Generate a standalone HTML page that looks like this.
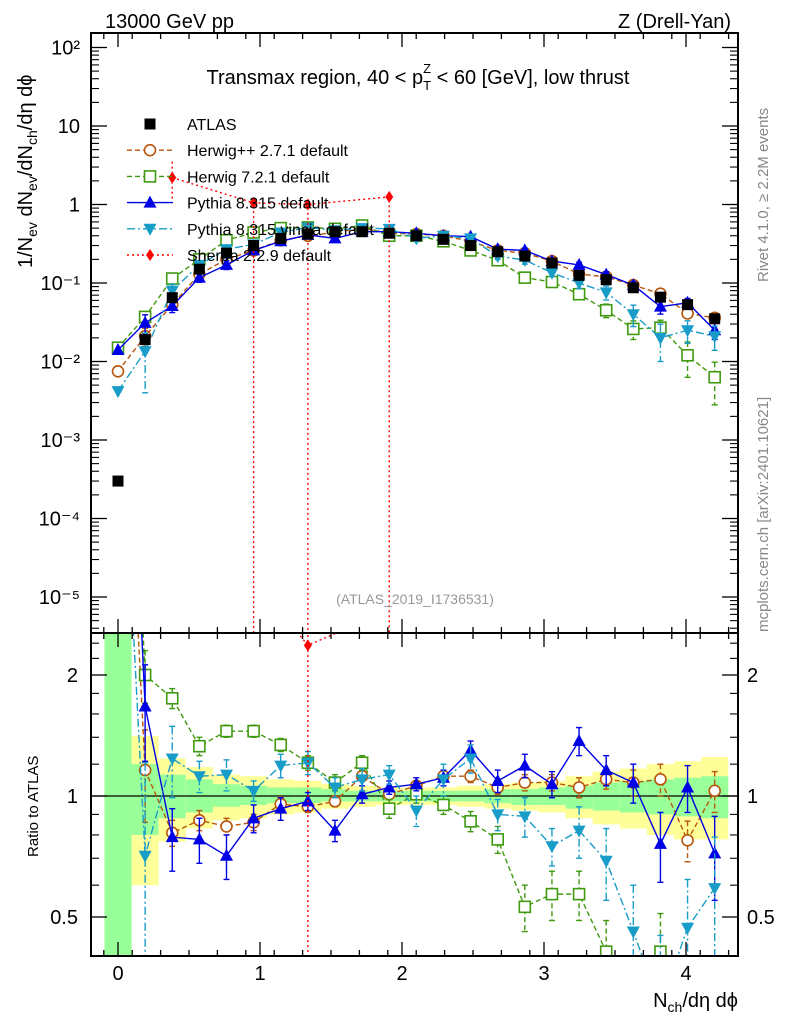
<!DOCTYPE html>
<html><head><meta charset="utf-8">
<style>
html,body{margin:0;padding:0;background:#fff;width:786px;height:1024px;overflow:hidden;}
svg{display:block;font-family:"Liberation Sans",sans-serif;}
</style></head>
<body>
<svg id="chart" width="786" height="1024" viewBox="0 0 786 1024" xmlns="http://www.w3.org/2000/svg">
<defs>
<clipPath id="cu"><rect x="91" y="33" width="647" height="600"/></clipPath>
<clipPath id="cl"><rect x="91" y="633" width="647" height="323"/></clipPath>
</defs>
<g id="bands" clip-path="url(#cl)"></g>
<g id="upper" clip-path="url(#cu)"></g>
<g id="lower" clip-path="url(#cl)"></g>
<g id="axes"></g>
<text x="105" y="28" font-size="20">13000 GeV pp</text>
<text x="731" y="28" font-size="20" text-anchor="end">Z (Drell-Yan)</text>
<text x="418" y="84" font-size="20" text-anchor="middle">Transmax region, 40 &lt; p<tspan font-size="13" dy="6">T</tspan><tspan font-size="13" dx="-8" dy="-17">Z</tspan><tspan dy="11"> &lt; 60 [GeV], low thrust</tspan></text>
<text x="415" y="604" font-size="14" fill="#999" text-anchor="middle">(ATLAS_2019_I1736531)</text>
<text transform="translate(768,282) rotate(-90)" font-size="15" fill="#888">Rivet 4.1.0, ≥ 2.2M events</text>
<text transform="translate(768,632) rotate(-90)" font-size="15" fill="#888">mcplots.cern.ch [arXiv:2401.10621]</text>
<text transform="translate(32,268) rotate(-90)" font-size="20">1/N<tspan font-size="14" dy="5">ev</tspan><tspan dy="-5"> dN</tspan><tspan font-size="14" dy="5">ev</tspan><tspan dy="-5">/dN</tspan><tspan font-size="14" dy="5">ch</tspan><tspan dy="-5">/dη dϕ</tspan></text>
<text transform="translate(38,857) rotate(-90)" font-size="15">Ratio to ATLAS</text>
<text x="738" y="1007" font-size="20" text-anchor="end">N<tspan font-size="14" dy="5">ch</tspan><tspan dy="-5">/dη dϕ</tspan></text>
<g id="legend"></g>
<script>
const idx = [0,1,2,3,4,5,6,7,8,9,10,11,12,13,14,15,16,17,18,19,20,21,22];
const binWidth = 0.191;
const atlas = [3e-4,0.019,0.065,0.15,0.24,0.30,0.37,0.42,0.45,0.45,0.43,0.40,0.36,0.30,0.25,0.22,0.18,0.125,0.11,0.087,0.066,0.053,0.035];
const hpp   = [0.0075,0.021,0.053,0.13,0.20,0.26,0.35,0.40,0.44,0.50,0.43,0.42,0.40,0.34,0.26,0.24,0.19,0.13,0.12,0.094,0.073,0.041,0.036];
const h7    = [0.015,0.037,0.114,0.20,0.35,0.44,0.50,0.51,0.49,0.54,0.40,0.40,0.34,0.26,0.195,0.117,0.103,0.072,0.045,0.026,0.027,0.012,0.0063];
const py    = [0.014,0.031,0.051,0.117,0.17,0.26,0.34,0.41,0.37,0.45,0.45,0.43,0.40,0.39,0.27,0.26,0.19,0.17,0.128,0.094,0.05,0.056,0.025];
const vin   = [0.0042,0.0135,0.08,0.17,0.27,0.31,0.44,0.51,0.47,0.50,0.49,0.37,0.40,0.37,0.22,0.196,0.135,0.10,0.076,0.04,0.02,0.025,0.021];
const shIdx = [2,5,7,10];
const sh    = [2.2,1.05,1.0,1.25];
const rHpp  = [25,1.16,0.81,0.87,0.84,0.86,0.955,0.94,0.97,1.12,1.01,1.06,1.12,1.12,1.05,1.08,1.08,1.05,1.10,1.08,1.10,0.776,1.03];
const rH7   = [50,2.0,1.75,1.33,1.45,1.45,1.34,1.21,1.08,1.21,0.93,1.01,0.95,0.865,0.78,0.53,0.57,0.57,0.41,0.30,0.41,0.21,0.18];
const rPy   = [47,1.67,0.79,0.78,0.71,0.88,0.93,0.97,0.82,1.01,1.05,1.07,1.11,1.30,1.09,1.19,1.07,1.37,1.16,1.08,0.76,1.05,0.72];
const rVin  = [14,0.71,1.24,1.12,1.13,1.03,1.19,1.21,1.05,1.10,1.13,0.92,1.10,1.24,0.90,0.89,0.75,0.82,0.69,0.46,0.30,0.47,0.59];
const rSh   = [34,3.5,2.37,2.9];
const eHpp  = [0.5,0.3,0.06,0.05,0.04,0.04,0.04,0.03,0.03,0.03,0.03,0.03,0.03,0.04,0.04,0.05,0.05,0.06,0.06,0.08,0.1,0.09,0.12];
const eH7   = [0.5,0.3,0.1,0.07,0.05,0.05,0.05,0.05,0.05,0.05,0.05,0.05,0.05,0.05,0.06,0.07,0.08,0.08,0.08,0.08,0.1,0.1,0.1];
const ePy   = [0.5,0.45,0.14,0.1,0.09,0.07,0.06,0.05,0.05,0.05,0.04,0.04,0.05,0.07,0.07,0.08,0.08,0.11,0.1,0.12,0.15,0.14,0.17];
const eVin  = [0.5,0.5,0.25,0.1,0.1,0.06,0.08,0.08,0.06,0.07,0.06,0.08,0.1,0.1,0.08,0.1,0.08,0.12,0.14,0.14,0.15,0.15,0.2];
const yelUp = [2.6,1.41,1.24,1.18,1.13,1.12,1.10,1.09,1.07,1.06,1.05,1.05,1.05,1.06,1.07,1.08,1.09,1.12,1.15,1.17,1.20,1.22,1.25];
const yelDn = [0.3,0.60,0.77,0.83,0.87,0.88,0.90,0.91,0.93,0.94,0.95,0.95,0.95,0.94,0.93,0.92,0.91,0.88,0.85,0.83,0.80,0.78,0.78];
const grnUp = [2.6,1.20,1.13,1.10,1.07,1.06,1.05,1.05,1.04,1.03,1.03,1.03,1.03,1.03,1.04,1.04,1.05,1.06,1.08,1.09,1.10,1.11,1.12];
const grnDn = [0.3,0.80,0.88,0.91,0.94,0.95,0.96,0.96,0.97,0.97,0.97,0.97,0.97,0.97,0.96,0.95,0.95,0.93,0.92,0.91,0.90,0.89,0.88];
const upperTicks = [2,1,0,-1,-2,-3,-4,-5];
const upperTickLabels = ["10²","10","1","10⁻¹","10⁻²","10⁻³","10⁻⁴","10⁻⁵"];
const ratioTicks = [2,1,0.5];
const ratioTickLabels = ["2","1","0.5"];
const xTicks = [0,1,2,3,4];
const xTickLabels = ["0","1","2","3","4"];

const NS="http://www.w3.org/2000/svg";
const X = v => 118 + v*142;
const YU = v => 204.5 - 78.5*Math.log10(v);
const YR = v => 796 - 121*Math.log2(v);
function mk(tag, parent, attrs){const e=document.createElementNS(NS,tag);for(const k in attrs)e.setAttribute(k,attrs[k]);parent.appendChild(e);return e;}
const U=document.getElementById('upper'), L=document.getElementById('lower'), B=document.getElementById('bands'), A=document.getElementById('axes'), G=document.getElementById('legend');

idx.forEach(i=>{
  const x0=X(i*binWidth-binWidth/2), x1=X(i*binWidth+binWidth/2);
  let r=mk('rect',B,{x:x0,y:YR(yelUp[i]),width:x1-x0,height:YR(yelDn[i])-YR(yelUp[i]),fill:'#ffff99'});
  
  
  r=mk('rect',B,{x:x0,y:YR(grnUp[i]),width:x1-x0,height:YR(grnDn[i])-YR(grnUp[i]),fill:'#99ff99'});
  
  
});
mk('line',L,{x1:91,x2:738,y1:YR(1),y2:YR(1),stroke:'#000','stroke-width':1.3});

function marker(parent,type,cx,cy,color){
  const s=5.5;let e;
  if(type==='sq') e=mk('rect',parent,{x:cx-s,y:cy-s,width:2*s,height:2*s,fill:color});
  else if(type==='osq') e=mk('rect',parent,{x:cx-s,y:cy-s,width:2*s,height:2*s,fill:'#fff',stroke:color,'stroke-width':1.6});
  else if(type==='oc') e=mk('circle',parent,{cx:cx,cy:cy,r:s,fill:'#fff',stroke:color,'stroke-width':1.6});
  else if(type==='tu') e=mk('path',parent,{d:`M${cx} ${cy-7}L${cx+6.5} ${cy+5}L${cx-6.5} ${cy+5}Z`,fill:color});
  else if(type==='td') e=mk('path',parent,{d:`M${cx} ${cy+7}L${cx+6.5} ${cy-5}L${cx-6.5} ${cy-5}Z`,fill:color});
  else e=mk('path',parent,{d:`M${cx} ${cy-6}L${cx+4} ${cy}L${cx} ${cy+6}L${cx-4} ${cy}Z`,fill:color});
  return e;
}
function errbar(parent,cx,y1,y2,color,dash){
  mk('line',parent,{x1:cx,x2:cx,y1:y1,y2:y2,stroke:color,'stroke-width':1.4,'stroke-dasharray':dash||''});
  mk('line',parent,{x1:cx-3,x2:cx+3,y1:y1,y2:y1,stroke:color,'stroke-width':1.4});
  mk('line',parent,{x1:cx-3,x2:cx+3,y1:y2,y2:y2,stroke:color,'stroke-width':1.4});
}
const series=[
 {name:'herwigpp',vals:hpp,rat:rHpp,err:eHpp,color:'#b8560b',dash:'5,3',m:'oc'},
 {name:'herwig7',vals:h7,rat:rH7,err:eH7,color:'#3f9a10',dash:'5,3',m:'osq'},
 {name:'pythia',vals:py,rat:rPy,err:ePy,color:'#0000e6',dash:'',m:'tu'},
 {name:'vincia',vals:vin,rat:rVin,err:eVin,color:'#189cc8',dash:'8,3,2,3',m:'td'}
];
series.forEach(s=>{
  const gu=mk('g',U,{});
  
  
  const gl=mk('g',L,{});
  
  
  mk('polyline',gu,{points:idx.map(i=>X(i*binWidth)+','+YU(s.vals[i])).join(' '),fill:'none',stroke:s.color,'stroke-width':1.4,'stroke-dasharray':s.dash});
  mk('polyline',gl,{points:idx.map(i=>X(i*binWidth)+','+YR(s.rat[i])).join(' '),fill:'none',stroke:s.color,'stroke-width':1.4,'stroke-dasharray':s.dash});
  idx.forEach(i=>{
    const cx=X(i*binWidth), rel=s.err[i]/s.rat[i];
    errbar(gu,cx,YU(s.vals[i]*(1+rel)),YU(Math.max(s.vals[i]*(1-rel),1e-7)),s.color,s.dash);
    errbar(gl,cx,YR(s.rat[i]+s.err[i]),YR(Math.max(s.rat[i]-s.err[i],0.01)),s.color,s.dash);
    let m=marker(gu,s.m,cx,YU(s.vals[i]),s.color);
    
    
    m=marker(gl,s.m,cx,YR(s.rat[i]),s.color);
    
    
  });
});
const gsu=mk('g',U,{});


const gsl=mk('g',L,{});


mk('polyline',gsu,{points:shIdx.map((k,j)=>X(k*binWidth)+','+YU(sh[j])).join(' '),fill:'none',stroke:'#f00','stroke-width':1.4,'stroke-dasharray':'2,3'});
mk('polyline',gsl,{points:shIdx.map((k,j)=>X(k*binWidth)+','+YR(rSh[j])).join(' '),fill:'none',stroke:'#f00','stroke-width':1.4,'stroke-dasharray':'2,3'});
shIdx.forEach((k,j)=>{
  const cx=X(k*binWidth);
  if(k===2){
    mk('line',gsu,{x1:cx,x2:cx,y1:YU(sh[j]*1.6),y2:YU(sh[j]/2),stroke:'#f00','stroke-width':1.4,'stroke-dasharray':'2,3'});
  } else {
    mk('line',gsu,{x1:cx,x2:cx,y1:YU(sh[j]*1.05),y2:700,stroke:'#f00','stroke-width':1.4,'stroke-dasharray':'2,3'});
  }
  if(k===7) mk('line',gsl,{x1:cx,x2:cx,y1:600,y2:1000,stroke:'#f00','stroke-width':1.4,'stroke-dasharray':'2,3'});
  let m=marker(gsu,'d',cx,YU(sh[j]),'#f00');
  
  
  m=marker(gsl,'d',cx,YR(rSh[j]),'#f00');
  
  
});
const ga=mk('g',U,{});


idx.forEach(i=>{
  const m=marker(ga,'sq',X(i*binWidth),YU(atlas[i]),'#000');
  
  
});

mk('rect',A,{x:91,y:33,width:647,height:600,fill:'none',stroke:'#000','stroke-width':2});
mk('rect',A,{x:91,y:633,width:647,height:323,fill:'none',stroke:'#000','stroke-width':2});
for(let v=-0.1;v<=4.35;v+=0.2){
  const x=X(v);
  [[33,1],[633,-1],[633,1],[956,-1]].forEach(([y,d])=>mk('line',A,{x1:x,x2:x,y1:y,y2:y+d*6,stroke:'#000','stroke-width':1.3}));
}
for(let v=0;v<=4.3;v+=1){
  const x=X(v);
  [[33,1],[633,-1],[633,1],[956,-1]].forEach(([y,d])=>mk('line',A,{x1:x,x2:x,y1:y,y2:y+d*14,stroke:'#000','stroke-width':1.3}));
}
xTicks.forEach((v,k)=>{
  const t=mk('text',A,{x:X(v),y:980,'font-size':20,'text-anchor':'middle'});t.textContent=xTickLabels[k];
  
  
});
upperTicks.forEach((p,k)=>{
  const y=YU(Math.pow(10,p));
  [[91,1],[738,-1]].forEach(([x,d])=>mk('line',A,{x1:x,x2:x+d*16,y1:y,y2:y,stroke:'#000','stroke-width':1.3}));
  for(let m=2;m<=9;m++){const ym=YU(m*Math.pow(10,p-1));if(ym<633&&ym>33)[[91,1],[738,-1]].forEach(([x,d])=>mk('line',A,{x1:x,x2:x+d*8,y1:ym,y2:ym,stroke:'#000','stroke-width':1.1}));}
  const t=mk('text',A,{x:80,y:y+7,'font-size':20,'text-anchor':'end'});t.textContent=upperTickLabels[k];
  
  
});
for(let m=2;m<=9;m++){const ym=YU(m*100);if(ym>33)[[91,1],[738,-1]].forEach(([x,d])=>mk('line',A,{x1:x,x2:x+d*8,y1:ym,y2:ym,stroke:'#000','stroke-width':1.1}));}
ratioTicks.forEach((v,k)=>{
  const y=YR(v);
  [[91,1],[738,-1]].forEach(([x,d])=>mk('line',A,{x1:x,x2:x+d*16,y1:y,y2:y,stroke:'#000','stroke-width':1.3}));
  let t=mk('text',A,{x:78,y:y+7,'font-size':20,'text-anchor':'end'});t.textContent=ratioTickLabels[k];
  
  
  t=mk('text',A,{x:747,y:y+7,'font-size':20});t.textContent=ratioTickLabels[k];
  
  
});
[0.6,0.7,0.8,0.9,1.2,1.4,1.6,1.8,2.2,2.4].forEach(v=>{const y=YR(v);[[91,1],[738,-1]].forEach(([x,d])=>mk('line',A,{x1:x,x2:x+d*8,y1:y,y2:y,stroke:'#000','stroke-width':1.1}));});

const legNames=['ATLAS','Herwig++ 2.7.1 default','Herwig 7.2.1 default','Pythia 8.315 default','Pythia 8.315 vincia default','Sherpa 2.2.9 default'];
const legM=['sq','oc','osq','tu','td','d'];
const legC=['#000','#b8560b','#3f9a10','#0000e6','#189cc8','#f00'];
const legD=[null,'5,3','5,3','','8,3,2,3','2,3'];
legNames.forEach((n,k)=>{
  const y=124+26.2*k;
  const g=mk('g',G,{});
  
  
  if(legD[k]!==null) mk('line',g,{x1:127,x2:173,y1:y,y2:y,stroke:legC[k],'stroke-width':1.4,'stroke-dasharray':legD[k]});
  marker(g,legM[k],150,y,legC[k]);
  const t=mk('text',g,{x:187,y:y+6,'font-size':16});t.textContent=n;
});
</script>
</svg>
</body></html>
